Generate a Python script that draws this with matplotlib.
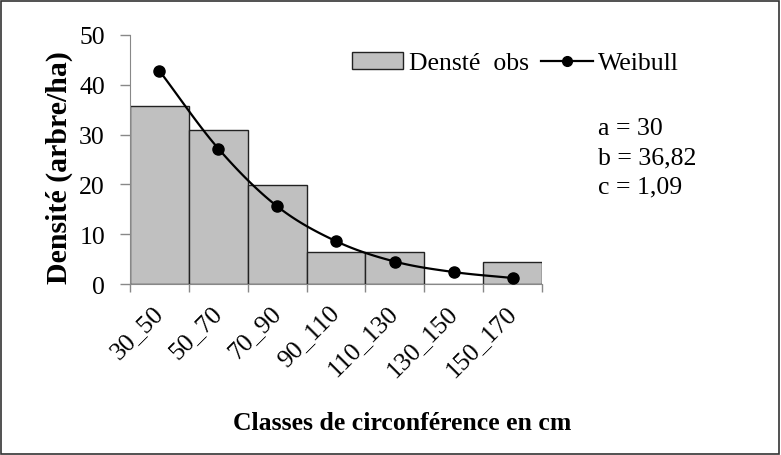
import matplotlib
matplotlib.use("Agg")
import matplotlib.pyplot as plt
import numpy as np
from matplotlib.patches import Rectangle, Patch
from matplotlib.lines import Line2D

categories = ["30_50", "50_70", "70_90", "90_110", "110_130", "130_150", "150_170"]
obs = [35.7, 30.9, 19.9, 6.5, 6.5, 0.0, 4.4]
weibull = [42.8, 27.2, 15.6, 8.6, 4.5, 2.4, 1.2]
params = ["a = 30", "b = 36,82", "c = 1,09"]

plt.rcParams['font.family'] = ['Liberation Serif', 'DejaVu Serif']
FS = 18.5

W, H = 781, 456
fig = plt.figure(figsize=(W/100, H/100), dpi=100)
ax = fig.add_axes([130/W, 1-285/H, (542-130)/W, (285-36)/H])

x = np.arange(len(categories))
ax.bar(x, obs, width=1.0, color="#c0c0c0", edgecolor="#222222", linewidth=1.0, zorder=2)

# smooth curve (Catmull-Rom rendering through the points)
def catmull(xs, ys, n=20):
    px = np.concatenate([[2*xs[0]-xs[1]], xs, [2*xs[-1]-xs[-2]]])
    py = np.concatenate([[2*ys[0]-ys[1]], ys, [2*ys[-1]-ys[-2]]])
    ox, oy = [], []
    for i in range(1, len(px)-2):
        t = np.linspace(0, 1, n, endpoint=False)
        for arr, out in ((px, ox), (py, oy)):
            p0, p1, p2, p3 = arr[i-1], arr[i], arr[i+1], arr[i+2]
            out.extend(0.5*((2*p1) + (-p0+p2)*t + (2*p0-5*p1+4*p2-p3)*t**2 + (-p0+3*p1-3*p2+p3)*t**3))
    ox.append(xs[-1]); oy.append(ys[-1])
    return np.array(ox), np.array(oy)

sx, sy = catmull(x.astype(float), np.array(weibull, dtype=float))
ax.plot(sx, sy, color="black", linewidth=1.6, zorder=3)
ax.plot(x, weibull, 'o', color="black", markersize=8, zorder=4)

ax.set_xlim(-0.5, len(categories)-0.5)
ax.set_ylim(0, 50)
ax.set_yticks([0, 10, 20, 30, 40, 50])
ax.set_xticks(np.arange(len(categories)+1)-0.5, minor=False)
ax.set_xticklabels([])
ax.set_xticks(x, minor=True)
ax.set_xticklabels(categories, minor=True, rotation=45, ha="right", va="center",
                   rotation_mode="anchor", fontsize=FS)
ax.tick_params(axis="x", which="minor", length=0, pad=18)
ax.tick_params(axis="x", which="major", length=6, width=1, color="#888888")
ax.tick_params(axis="y", length=7, width=1, color="#888888", labelsize=FS, pad=11)
for s in ("top", "right"):
    ax.spines[s].set_visible(False)
ax.spines["left"].set_color("#888888")
ax.spines["bottom"].set_color("#888888")
ax.spines["left"].set_zorder(5)

fig.text(59/W, 1-168/H, "Densité (arbre/ha)", fontsize=21.5, fontweight="bold",
         rotation=90, ha="center", va="center")
fig.text(402/W, 1-424/H, "Classes de circonférence en cm", fontsize=FS,
         fontweight="bold", ha="center", va="center")

handles = [Patch(facecolor="#c0c0c0", edgecolor="#222222", linewidth=1.0),
           Line2D([], [], color="black", marker="o", linewidth=1.6, markersize=7)]
leg = fig.legend(handles, ["Densté  obs", "Weibull"], loc="center left",
                 bbox_to_anchor=(352/W, 1-64/H), ncol=2, frameon=False,
                 fontsize=FS, handlelength=2.0, handletextpad=0.2, columnspacing=0.5,
                 borderaxespad=0, borderpad=0)

for i, p in enumerate(params):
    fig.text(598/W, 1-(135+29*i)/H, p, fontsize=FS, ha="left", va="baseline")

fig.patches.append(Rectangle((1/W, 1/H), 1-3/W, 1-3/H, transform=fig.transFigure,
                             fill=False, edgecolor="#333333", linewidth=1.2))

fig.savefig("out.png", dpi=100)
